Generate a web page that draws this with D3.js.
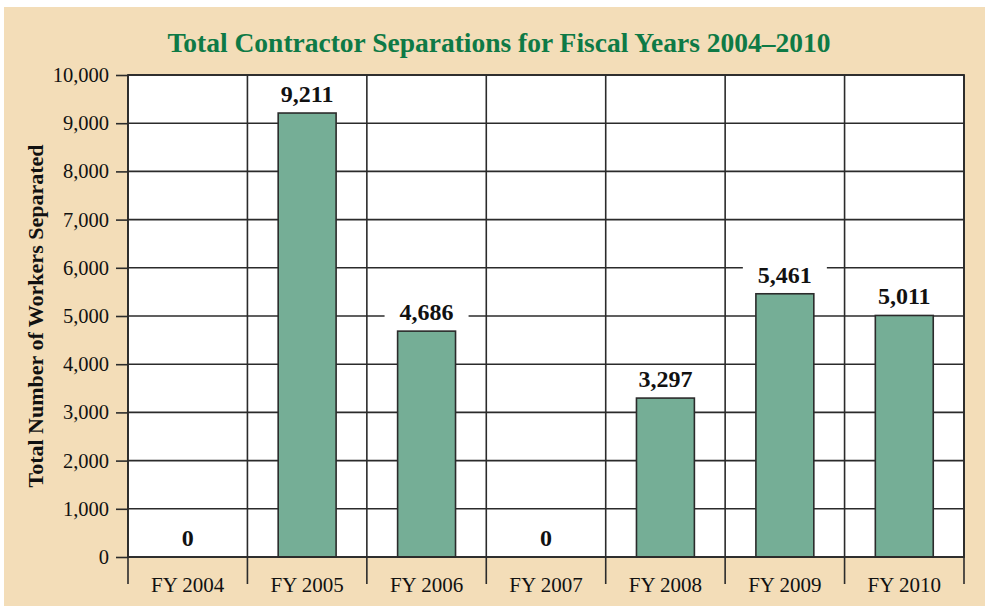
<!DOCTYPE html>
<html>
<head>
<meta charset="utf-8">
<script src="https://cdn.jsdelivr.net/npm/d3@7"></script>
<style>
  body { margin: 0; background: #fff; }
  svg text { font-family: "Liberation Serif", "DejaVu Serif", serif; }
</style>
</head>
<body>
<div id="chart"></div>
<script>
var categories = ['FY 2004', 'FY 2005', 'FY 2006', 'FY 2007', 'FY 2008', 'FY 2009', 'FY 2010'];
var separations = [0, 9211, 4686, 0, 3297, 5461, 5011];
var yTicks = [0, 1000, 2000, 3000, 4000, 5000, 6000, 7000, 8000, 9000, 10000];

var width = 985, height = 606;
var margin = { top: 75, left: 128, right: 21, bottom: 49 };
var innerW = width - margin.left - margin.right;
var innerH = height - margin.top - margin.bottom;

var svg = d3.select('#chart').append('svg')
  .attr('width', width)
  .attr('height', height);

// tan panel
svg.append('rect')
  .attr('x', 4).attr('y', 7)
  .attr('width', width - 4).attr('height', height - 7)
  .attr('fill', '#f3ddb8');

svg.append('text')
  .attr('x', 499).attr('y', 52)
  .attr('text-anchor', 'middle')
  .attr('font-size', 27.5)
  .attr('font-weight', 'bold')
  .attr('fill', '#0e7a46')
  .text('Total Contractor Separations for Fiscal Years 2004\u20132010');

var g = svg.append('g')
  .attr('transform', 'translate(' + margin.left + ',' + margin.top + ')');

var x = d3.scaleBand().domain(categories).range([0, innerW]).paddingInner(0).paddingOuter(0);
var y = d3.scaleLinear().domain([0, 10000]).range([innerH, 0]);

g.append('rect')
  .attr('width', innerW).attr('height', innerH)
  .attr('fill', '#fff');

var lineColor = '#2b2b2b';

// ticks on the left
g.append('g')
  .attr('class', 'y-axis')
  .call(d3.axisLeft(y).tickValues(yTicks).tickSize(12).tickFormat(d3.format(',')))
  .call(function (a) {
    a.select('.domain').remove();
    a.selectAll('line').attr('stroke', lineColor).attr('stroke-width', 1.6);
    a.selectAll('text')
      .attr('font-size', 20.5)
      .attr('fill', '#111')
      .attr('x', -19)
      .attr('font-family', '"Liberation Serif", serif');
  });

g.selectAll('.hgrid')
  .data(yTicks)
  .enter().append('line')
  .attr('class', 'hgrid')
  .attr('x1', 0).attr('x2', innerW)
  .attr('y1', function (d) { return y(d); })
  .attr('y2', function (d) { return y(d); })
  .attr('stroke', lineColor)
  .attr('stroke-width', 1.6);

// vertical dividers, extending below axis
var dividers = categories.map(function (c) { return x(c); }).concat([innerW]);
g.selectAll('.vgrid')
  .data(dividers)
  .enter().append('line')
  .attr('class', 'vgrid')
  .attr('x1', function (d) { return d; })
  .attr('x2', function (d) { return d; })
  .attr('y1', 0).attr('y2', innerH + 27)
  .attr('stroke', lineColor)
  .attr('stroke-width', 1.6);

var barW = x.bandwidth() * 0.485;

g.selectAll('.bar')
  .data(separations)
  .enter().append('rect')
  .attr('class', 'bar')
  .attr('x', function (d, i) { return x(categories[i]) + (x.bandwidth() - barW) / 2; })
  .attr('y', function (d) { return y(d); })
  .attr('width', barW)
  .attr('height', function (d) { return innerH - y(d); })
  .attr('fill', '#75ae96')
  .attr('stroke', lineColor)
  .attr('stroke-width', 1.6)
  .style('display', function (d) { return d > 0 ? null : 'none'; });

// value labels with white backing
var labels = g.selectAll('.val')
  .data(separations)
  .enter().append('g')
  .attr('class', 'val')
  .attr('transform', function (d, i) {
    return 'translate(' + (x(categories[i]) + x.bandwidth() / 2) + ',' + (y(d) - 11) + ')';
  });

labels.append('rect')
  .attr('x', -42).attr('y', -22)
  .attr('width', 84).attr('height', 24)
  .attr('fill', '#fff');

labels.append('text')
  .attr('text-anchor', 'middle')
  .attr('font-size', 24)
  .attr('font-weight', 'bold')
  .attr('fill', '#111')
  .text(function (d) { return d3.format(',')(d); });

// x labels
g.selectAll('.xlab')
  .data(categories)
  .enter().append('text')
  .attr('class', 'xlab')
  .attr('x', function (d) { return x(d) + x.bandwidth() / 2; })
  .attr('y', innerH + 35)
  .attr('text-anchor', 'middle')
  .attr('font-size', 21)
  .attr('fill', '#111')
  .text(function (d) { return d; });

// outer border
g.append('rect')
  .attr('width', innerW).attr('height', innerH)
  .attr('fill', 'none')
  .attr('stroke', lineColor)
  .attr('stroke-width', 1.8);

svg.append('text')
  .attr('transform', 'translate(43,' + (margin.top + innerH / 2 + 0) + ') rotate(-90)')
  .attr('text-anchor', 'middle')
  .attr('font-size', 22)
  .attr('font-weight', 'bold')
  .attr('fill', '#111')
  .text('Total Number of Workers Separated');
</script>
</body>
</html>
